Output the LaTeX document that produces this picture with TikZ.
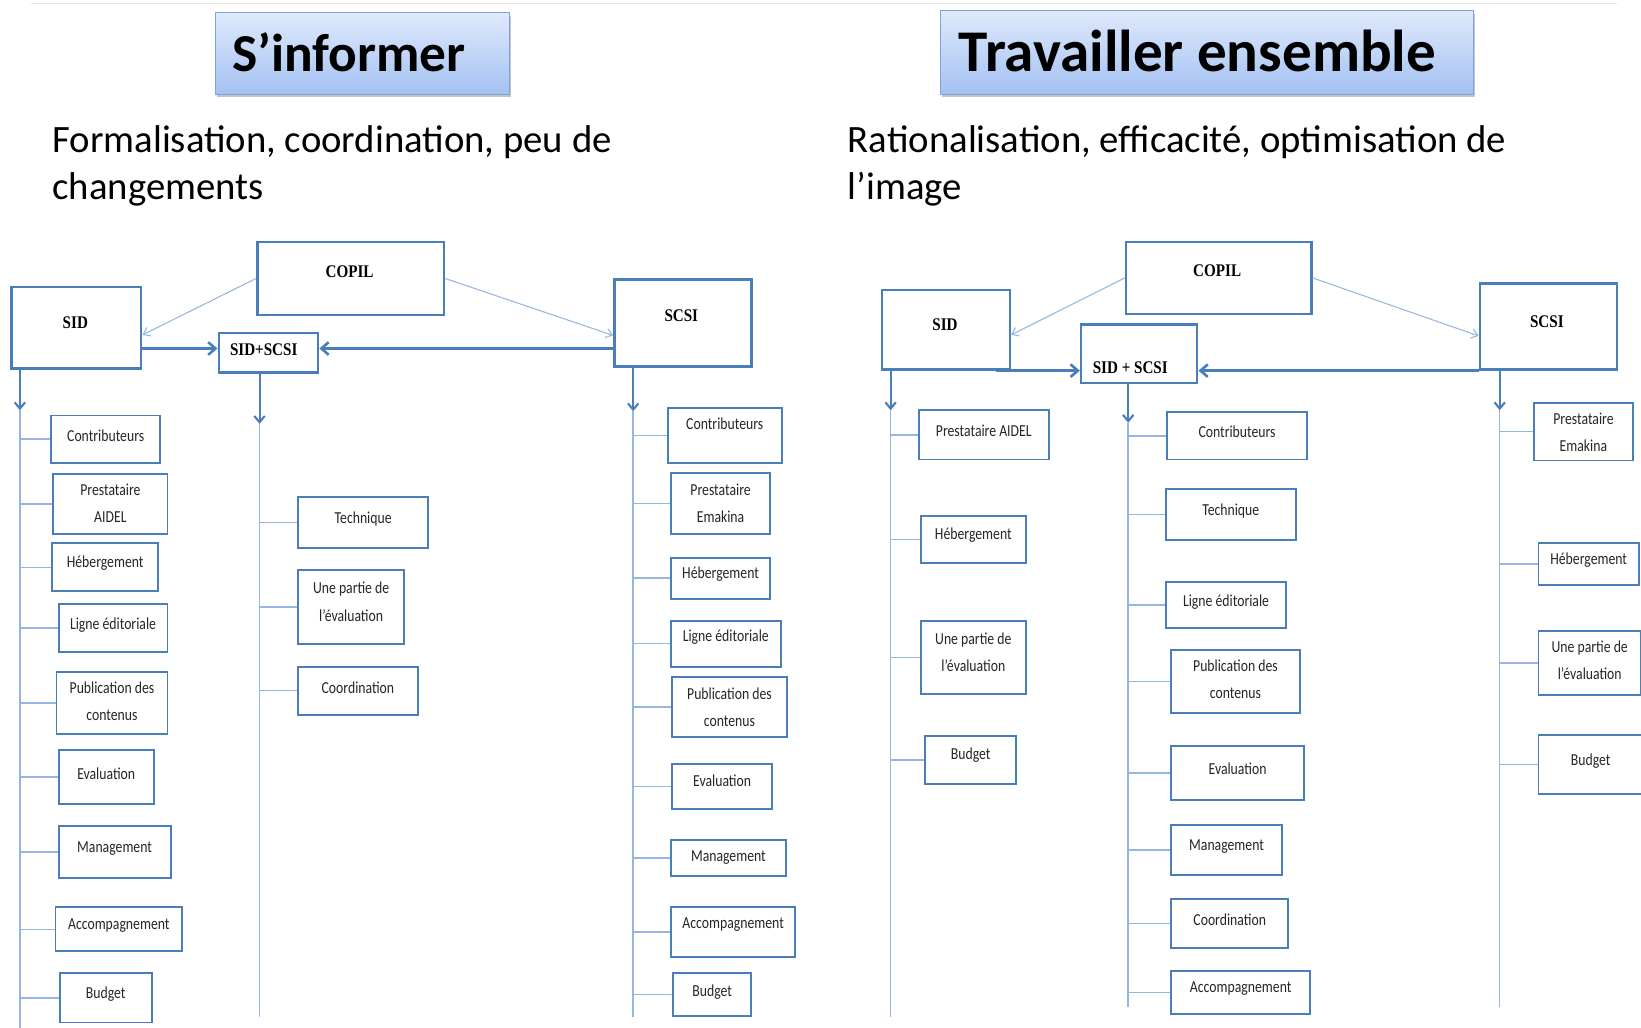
\documentclass[tikz,border=0pt]{standalone}
\usepackage{fontspec}
\setmainfont{Carlito}
\newfontfamily\narrowf[FakeStretch=0.82]{Carlito}
\newfontfamily\bnarrow[FakeStretch=0.85]{Liberation Serif}
\usetikzlibrary{arrows.meta,shadows,calc}
\definecolor{boxblue}{HTML}{4A7EBB}
\definecolor{lineblue}{HTML}{95B6E0}
\definecolor{titletop}{HTML}{DFEAFC}
\definecolor{titlebot}{HTML}{A3C1F2}
\definecolor{titleedge}{HTML}{7FA3D9}
\definecolor{txt}{HTML}{262626}
\tikzset{
  box/.style={draw=boxblue, line width=1.8pt, inner sep=0pt, fill=white},
  mainbox/.style={draw=boxblue, line width=2.3pt, inner sep=0pt, fill=white},
  lbl/.style={inner sep=0pt, text=txt, align=center, font=\narrowf\fontsize{16}{26}\selectfont},
  mlbl/.style={inner sep=0pt, text=black, font=\bnarrow\bfseries\fontsize{17}{20}\selectfont},
  titlebox/.style={draw=titleedge, line width=1pt, top color=titletop, bottom color=titlebot,
     drop shadow={opacity=0.45, shadow xshift=1.5pt, shadow yshift=-3pt}},
  thinarr/.style={draw=lineblue, line width=1pt, -{Straight Barb[length=6pt,width=9pt]}},
  thickarr/.style={draw=boxblue, line width=3pt, -{Straight Barb[length=7pt,width=12pt,line width=2.5pt]}},
  downarr/.style={draw=boxblue, line width=2pt, -{Straight Barb[length=6pt,width=10pt,line width=2pt]}},
  trunk/.style={draw=lineblue, line width=1.4pt},
  branch/.style={draw=lineblue, line width=1.4pt},
  subt/.style={inner sep=0pt, anchor=base west, align=left, text=black, font=\fontsize{37}{45}\selectfont}
}
\newcommand\bx[7]{%
  \pgfmathsetmacro\myW{#4-#2}\pgfmathsetmacro\myH{#5-#3}%
  \pgfmathsetmacro\myX{(#2+#4)/2}\pgfmathsetmacro\myY{(#3+#5)/2}%
  \node[box, minimum width=\myW pt, minimum height=\myH pt] (#1) at (\myX,\myY) {};
  \node[lbl] (#1t) at (\myX,#6) {#7};}
\newcommand\mbx[8]{%
  \pgfmathsetmacro\myW{#4-#2}\pgfmathsetmacro\myH{#5-#3}%
  \pgfmathsetmacro\myX{(#2+#4)/2}\pgfmathsetmacro\myY{(#3+#5)/2}%
  \node[mainbox, minimum width=\myW pt, minimum height=\myH pt] (#1) at (\myX,\myY) {};
  \node[mlbl] (#1t) at (#6,#7) {#8};}
\begin{document}
\begin{tikzpicture}[x=1pt,y=-1pt]
\useasboundingbox (0,0) rectangle (1568,982);
\clip (0,0) rectangle (1568,982);
\fill[white] (0,0) rectangle (1568,982);
\draw[black!10, line width=1.2pt] (30,3) -- (1545,3);

% titles
\node[titlebox, minimum width=281pt, minimum height=78pt, inner sep=0pt] (T1) at (346.5,51) {};
\node[inner sep=0pt, anchor=base west, font=\bfseries\fontsize{51}{60}\selectfont] (T1t) at (222,68) {S’informer};
\node[titlebox, minimum width=509pt, minimum height=80pt, inner sep=0pt] (T2) at (1153.5,50) {};
\node[inner sep=0pt, anchor=base west, font=\bfseries\fontsize{56.5}{60}\selectfont] (T2t) at (916,68) {Travailler ensemble};

\node[subt] (S1) at (50,191) {Formalisation, coordination, peu de\\changements};
\node[subt] (S2) at (810,191) {Rationalisation, efficacité, optimisation de\\l’image};

% ===== left diagram =====
\mbx{COPa}{246}{231}{424}{301}{334}{260}{COPIL}
\mbx{SIDa}{11}{274}{135}{352}{72}{308}{SID}
\mbx{SCSIa}{587}{267}{718}{350}{651}{302}{SCSI}
\mbx{SSa}{209}{318}{304}{356}{252}{334}{SID+SCSI}

\draw[thinarr] (COPa.west) -- ($(SIDa.east)+(0,7)$);
\draw[thinarr] (COPa.east) -- ($(SCSIa.west)+(0,12)$);
\draw[thickarr] (SIDa.east |- SSa.west) ++(0,-4) coordinate (ka1) -- (SSa.west |- ka1);
\draw[thickarr] (SCSIa.west |- SSa.east) ++(0,-4) coordinate (ka2) -- (SSa.east |- ka2);

\coordinate (tA) at (19,392); \coordinate (eA) at (19,982);
\coordinate (tB) at (248,405); \coordinate (eB) at (248,972);
\coordinate (tC) at (605,393); \coordinate (eC) at (605,972);
\draw[downarr] (SIDa.south -| tA) -- (tA);
\draw[downarr] (SSa.south -| tB) -- (tB);
\draw[downarr] (SCSIa.south -| tC) -- (tC);
\draw[trunk] (tA) -- (eA);
\draw[trunk] (tB) -- (eB);
\draw[trunk] (tC) -- (eC);

\bx{cA1}{49}{397}{153}{442}{416}{Contributeurs}
\bx{cA2}{51}{453}{160}{510}{481}{Prestataire\\AIDEL}
\bx{cA3}{50}{519}{151}{565}{538}{Hébergement}
\bx{cA4}{56}{577}{160}{623}{597}{Ligne éditoriale}
\bx{cA5}{54}{642}{160}{701}{670}{Publication des\\contenus}
\bx{cA6}{56}{717}{147}{768}{739}{Evaluation}
\bx{cA7}{56}{789}{163}{839}{811}{Management}
\bx{cA8}{53}{867}{174}{909}{884}{Accompagnement}
\bx{cA9}{57}{930}{145}{977}{950}{Budget}
\foreach \n in {cA1,cA2,cA3,cA4,cA5,cA6,cA7,cA8,cA9}
  \draw[branch] (\n.west) -- (\n.west -| tA);

\bx{cB1}{285}{475}{409}{524}{496}{Technique}
\bx{cB2}{285}{545}{386}{615}{575}{Une partie de\\l’évaluation}
\bx{cB3}{285}{637}{399}{683}{657}{Coordination}
\foreach \n in {cB1,cB2,cB3}
  \draw[branch] (\n.west) -- (\n.west -| tB);

\bx{cC1}{638}{390}{747}{442}{405}{Contributeurs}
\bx{cC2}{641}{452}{736}{510}{481}{Prestataire\\Emakina}
\bx{cC3}{641}{533}{736}{572}{549}{Hébergement}
\bx{cC4}{641}{593}{746}{637}{609}{Ligne éditoriale}
\bx{cC5}{642}{647}{752}{704}{676}{Publication des\\contenus}
\bx{cC6}{642}{730}{738}{773}{746}{Evaluation}
\bx{cC7}{641}{803}{751}{837}{819}{Management}
\bx{cC8}{641}{867}{760}{914}{883}{Accompagnement}
\bx{cC9}{643}{930}{718}{971}{948}{Budget}
\foreach \n in {cC1,cC2,cC3,cC4,cC5,cC6,cC7,cC8,cC9}
  \draw[branch] (\n.west) -- (\n.west -| tC);

% ===== right diagram =====
\mbx{COPb}{1076}{231}{1253}{300}{1163}{259}{COPIL}
\mbx{SIDb}{843}{277}{965}{353}{903}{310}{SID}
\mbx{SCSIb}{1414}{271}{1545}{353}{1478}{307}{SCSI}
\mbx{SSb}{1033}{310}{1144}{366}{1080}{351}{SID + SCSI}

\draw[thinarr] (COPb.west) -- ($(SIDb.east)+(0,5)$);
\draw[thinarr] (COPb.east) -- ($(SCSIb.west)+(0,9)$);
\draw[thickarr] ($(SIDb.south east)+(-14,0)$) -- (SSb.west |- SIDb.south);
\draw[thickarr] (SCSIb.south west) -- (SSb.east |- SCSIb.south);

\coordinate (tD) at (851,392); \coordinate (eD) at (851,972);
\coordinate (tE) at (1078,404); \coordinate (eE) at (1078,962);
\coordinate (tF) at (1433,392); \coordinate (eF) at (1433,962);
\draw[downarr] (SIDb.south -| tD) -- (tD);
\draw[downarr] (SSb.south -| tE) -- (tE);
\draw[downarr] (SCSIb.south -| tF) -- (tF);
\draw[trunk] (tD) -- (eD);
\draw[trunk] (tE) -- (eE);
\draw[trunk] (tF) -- (eF);

\bx{cD1}{878}{392}{1002}{439}{412}{Prestataire AIDEL}
\bx{cD2}{880}{493}{980}{538}{511}{Hébergement}
\bx{cD3}{880}{593}{980}{663}{623}{Une partie de\\l’évaluation}
\bx{cD4}{884}{703}{971}{749}{722}{Budget}
\foreach \n in {cD1,cD2,cD3,cD4}
  \draw[branch] (\n.west) -- (\n.west -| tD);

\bx{cE1}{1115}{394}{1249}{439}{413}{Contributeurs}
\bx{cE2}{1114}{467}{1238}{516}{488}{Technique}
\bx{cE3}{1114}{556}{1229}{600}{575}{Ligne éditoriale}
\bx{cE4}{1119}{621}{1242}{681}{649}{Publication des\\contenus}
\bx{cE5}{1119}{713}{1246}{764}{735}{Evaluation}
\bx{cE6}{1119}{788}{1225}{836}{809}{Management}
\bx{cE7}{1119}{859}{1231}{906}{879}{Coordination}
\bx{cE8}{1119}{928}{1252}{969}{945}{Accompagnement}
\foreach \n in {cE1,cE2,cE3,cE4,cE5,cE6,cE7,cE8}
  \draw[branch] (\n.west) -- (\n.west -| tE);

\bx{cF1}{1466}{385}{1560}{440}{413}{Prestataire\\Emakina}
\bx{cF2}{1470}{519}{1566}{559}{535}{Hébergement}
\bx{cF3}{1470}{603}{1568}{664}{631}{Une partie de\\l’évaluation}
\bx{cF4}{1470}{702}{1570}{759}{727}{Budget}
\foreach \n in {cF1,cF2,cF3,cF4}
  \draw[branch] (\n.west) -- (\n.west -| tF);
\end{tikzpicture}
\end{document}
